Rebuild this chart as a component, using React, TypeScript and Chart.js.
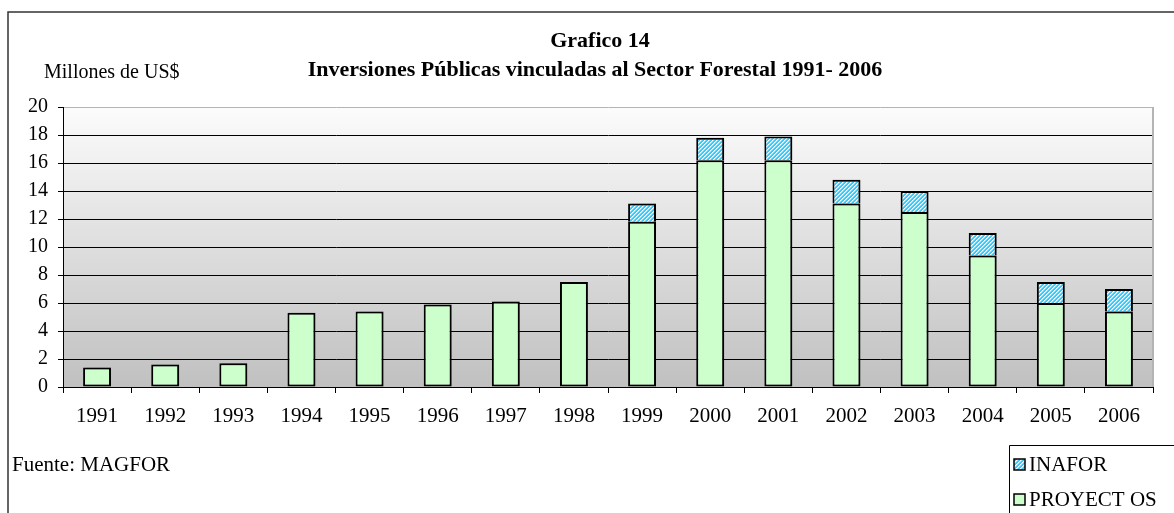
import React, { useEffect, useRef } from "react";
import { Chart, registerables } from "chart.js";

Chart.register(...registerables);

const years = ["1991", "1992", "1993", "1994", "1995", "1996", "1997", "1998", "1999", "2000", "2001", "2002", "2003", "2004", "2005", "2006"];
const proyectos = [1.4, 1.6, 1.7, 5.3, 5.4, 5.9, 6.1, 7.5, 11.8, 16.2, 16.2, 13.1, 12.5, 9.4, 6.0, 5.4];
const inafor = [null, null, null, null, null, null, null, null, 1.3, 1.6, 1.7, 1.7, 1.5, 1.6, 1.5, 1.6];
const yMin = 0;
const yMax = 20;
const yStep = 2;
const titleLine1 = "Grafico 14";
const titleLine2 = "Inversiones Públicas vinculadas al Sector Forestal 1991- 2006";
const yUnitLabel = "Millones de US$";
const sourceNote = "Fuente: MAGFOR";
const seriesNames = ["PROYECTOS", "INAFOR"];
const legendNames = ["INAFOR", "PROYECT OS"];

const FONT = "'Liberation Serif', 'Times New Roman', serif";

function makeHatch(): CanvasPattern | string {
  const c = document.createElement("canvas");
  c.width = 4;
  c.height = 4;
  const g = c.getContext("2d");
  if (!g) return "#33ccff";
  g.fillStyle = "#33ccff";
  g.fillRect(0, 0, 4, 4);
  for (let y = 0; y < 4; y++) {
    for (let x = 0; x < 4; x++) {
      const k = (x + y) % 4;
      if (k === 0) {
        g.fillStyle = "#ffffff";
        g.fillRect(x, y, 1, 1);
      } else if (k === 1) {
        g.fillStyle = "#9be6ff";
        g.fillRect(x, y, 1, 1);
      }
    }
  }
  const p = g.createPattern(c, "repeat");
  return p || "#33ccff";
}

export default function App() {
  const ref = useRef<HTMLCanvasElement>(null);

  useEffect(() => {
    const canvas = ref.current;
    if (!canvas) return;
    const hatch = makeHatch();
    const green = "#ccffcc";

    const bgPlugin = {
      id: "bgPlugin",
      beforeDraw(chart: any) {
        const { ctx, chartArea: a } = chart;
        ctx.save();
        const grad = ctx.createLinearGradient(0, a.top, 0, a.bottom);
        grad.addColorStop(0, "#fcfcfc");
        grad.addColorStop(1, "#c0c0c0");
        ctx.fillStyle = grad;
        ctx.fillRect(a.left, a.top, a.right - a.left, a.bottom - a.top);
        ctx.restore();
      },
      beforeDatasetsDraw(chart: any) {
        const { ctx, chartArea: a } = chart;
        ctx.save();
        ctx.strokeStyle = "#b4b4b4";
        ctx.lineWidth = 2;
        ctx.beginPath();
        ctx.moveTo(a.right, a.top);
        ctx.lineTo(a.right, a.bottom);
        ctx.stroke();
        ctx.restore();
        ctx.save();
        ctx.shadowColor = "rgba(0,0,0,0.22)";
        ctx.shadowOffsetX = 3;
        ctx.shadowOffsetY = 0;
        ctx.shadowBlur = 0;
      },
      afterDatasetsDraw(chart: any) {
        chart.ctx.restore();
      },
    };

    const textPlugin = {
      id: "textPlugin",
      afterDraw(chart: any) {
        const ctx = chart.ctx;
        ctx.save();
        // frame
        ctx.strokeStyle = "#333333";
        ctx.lineWidth = 1.5;
        ctx.beginPath();
        ctx.moveTo(1174, 12);
        ctx.lineTo(8, 12);
        ctx.lineTo(8, 513);
        ctx.stroke();
        // titles
        ctx.fillStyle = "#000";
        ctx.textBaseline = "middle";
        ctx.textAlign = "center";
        ctx.font = `bold 22px ${FONT}`;
        ctx.fillText(titleLine1, 600, 41);
        ctx.fillText(titleLine2, 595, 70);
        ctx.textAlign = "left";
        ctx.font = `20px ${FONT}`;
        ctx.fillText(yUnitLabel, 44, 73);
        ctx.font = `21px ${FONT}`;
        ctx.fillText(sourceNote, 12, 465);
        // legend box
        ctx.strokeStyle = "#000";
        ctx.lineWidth = 1;
        ctx.beginPath();
        ctx.moveTo(1174, 445.5);
        ctx.lineTo(1009.5, 445.5);
        ctx.lineTo(1009.5, 513);
        ctx.stroke();
        const items = [
          { name: legendNames[0], fill: chart.data.datasets[1].backgroundColor, y: 464 },
          { name: legendNames[1], fill: chart.data.datasets[0].backgroundColor, y: 499 },
        ];
        for (const it of items) {
          ctx.fillStyle = it.fill;
          ctx.fillRect(1014, it.y - 5, 11, 11);
          ctx.strokeStyle = "#000";
          ctx.lineWidth = 1.5;
          ctx.strokeRect(1014, it.y - 5, 11, 11);
          ctx.fillStyle = "#000";
          ctx.font = `21px ${FONT}`;
          ctx.fillText(it.name, 1029, it.y + 1);
        }
        ctx.restore();
      },
    };

    const chart = new Chart(canvas, {
      type: "bar",
      data: {
        labels: years,
        datasets: [
          {
            label: seriesNames[0],
            data: proyectos,
            backgroundColor: green,
            borderColor: "#000",
            borderWidth: 2,
            borderSkipped: false,
            barPercentage: 0.41,
            categoryPercentage: 1,
          },
          {
            label: seriesNames[1],
            data: inafor as any,
            backgroundColor: hatch as any,
            borderColor: "#000",
            borderWidth: 2,
            borderSkipped: "bottom",
            barPercentage: 0.41,
            categoryPercentage: 1,
          },
        ],
      },
      options: {
        animation: false,
        responsive: false,
        maintainAspectRatio: false,
        devicePixelRatio: 1,
        layout: { padding: { left: 0, top: 107, right: 21, bottom: 0 } },
        plugins: {
          legend: { display: false },
          title: { display: false },
          tooltip: { enabled: false },
        },
        scales: {
          x: {
            stacked: true,
            grid: {
              display: true,
              drawOnChartArea: false,
              offset: true,
              tickLength: 6,
              color: "#000",
            },
            border: { display: true, color: "#000", width: 1 },
            ticks: {
              font: { family: FONT, size: 21 },
              color: "#000",
              padding: 11,
              maxRotation: 0,
              autoSkip: false,
            },
            afterFit: (s: any) => {
              s.height = 126;
            },
          },
          y: {
            stacked: true,
            min: yMin,
            max: yMax,
            ticks: {
              stepSize: yStep,
              autoSkip: false,
              font: { family: FONT, size: 20 },
              color: "#000",
              padding: 10,
            },
            grid: {
              color: (c: any) => (c.tick && c.tick.value === yMax ? "#b4b4b4" : "#000"),
              tickColor: "#000",
              tickLength: 5,
              lineWidth: 1,
            },
            border: { display: true, color: "#000", width: 1 },
            afterFit: (s: any) => {
              s.width = 63;
            },
          },
        },
      },
      plugins: [bgPlugin, textPlugin],
    } as any);

    return () => chart.destroy();
  }, []);

  return (
    <div style={{ position: "absolute", left: 0, top: 0, width: 1174, height: 513, background: "#fff" }}>
      <canvas ref={ref} width={1174} height={513} style={{ display: "block" }} />
    </div>
  );
}
